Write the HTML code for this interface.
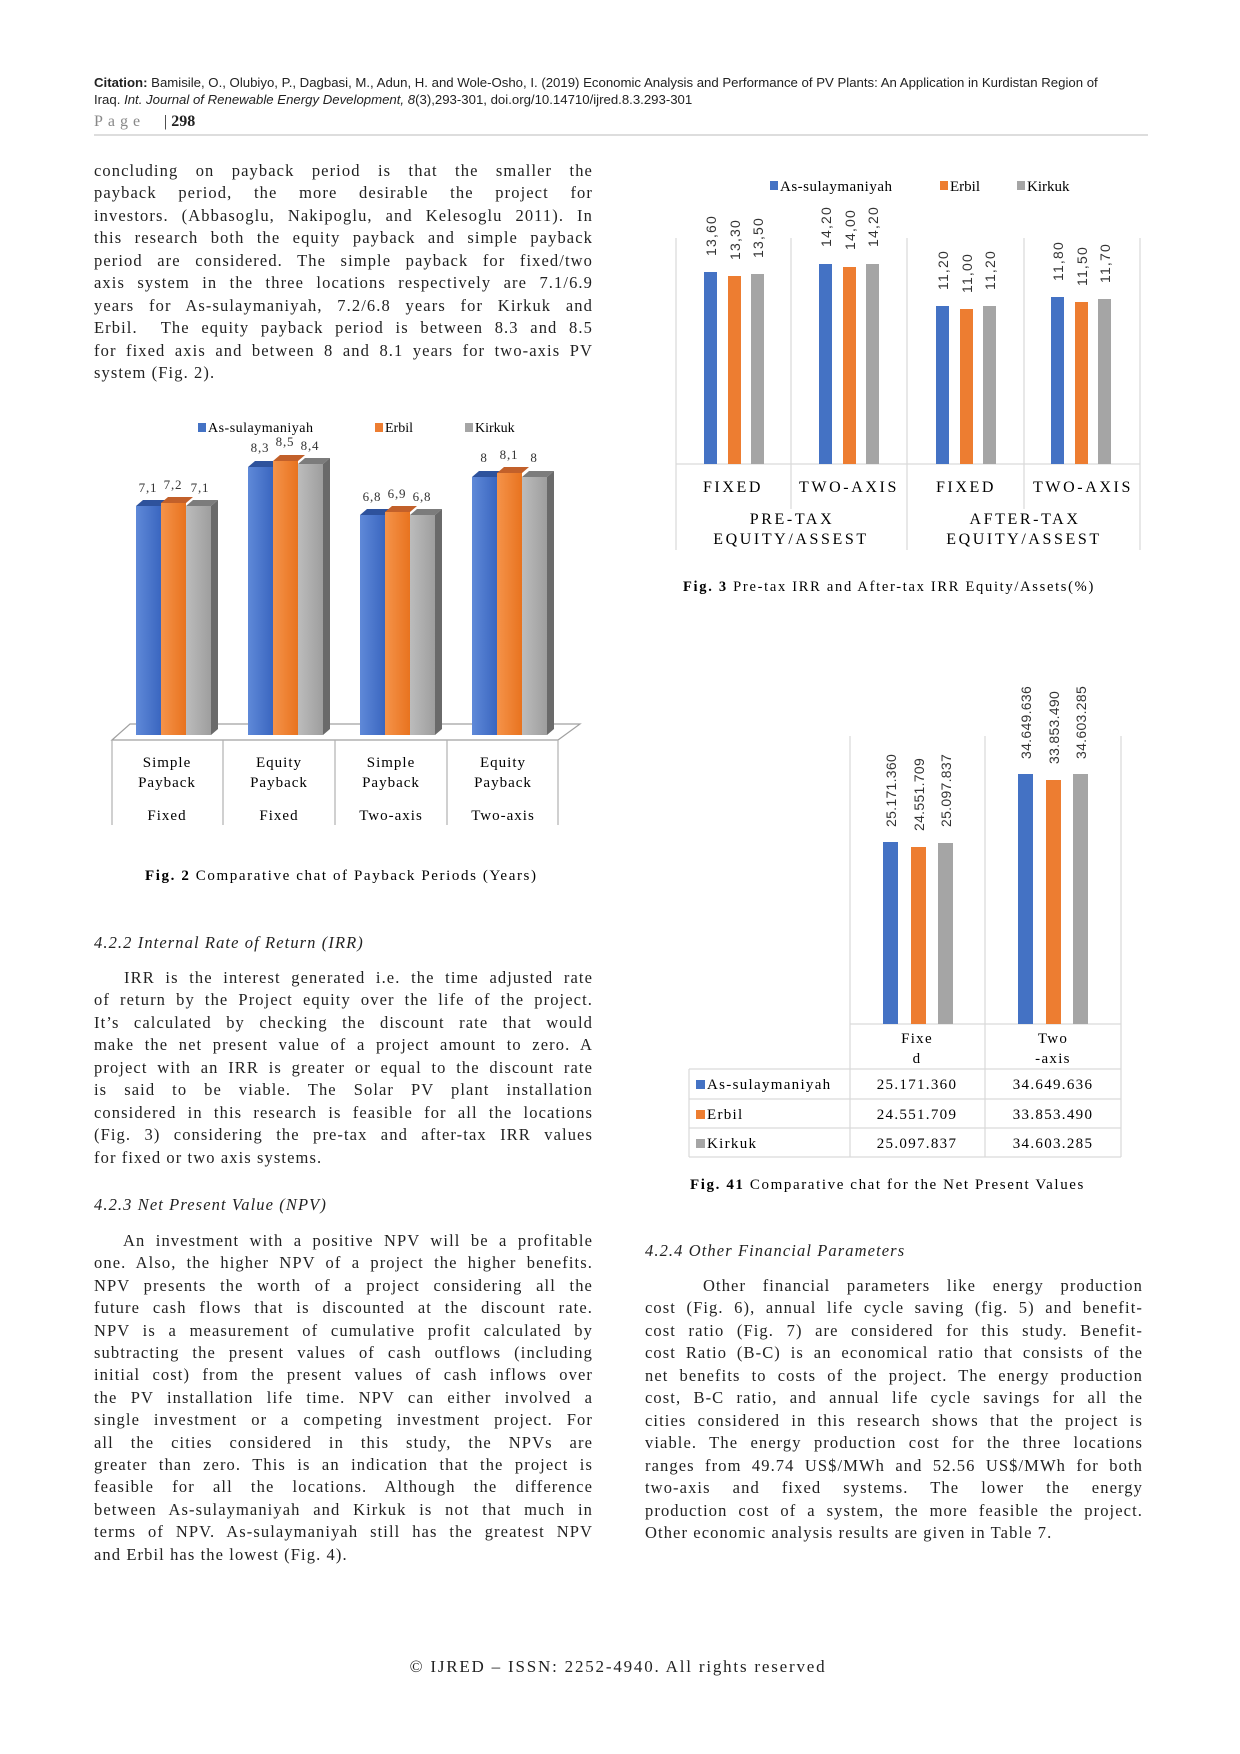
<!DOCTYPE html>
<html><head><meta charset="utf-8">
<style>
html,body{margin:0;padding:0;background:#fff;}
body{width:1240px;height:1754px;position:relative;overflow:hidden;font-family:"Liberation Serif",serif;color:#222;}
.l{position:absolute;height:22px;line-height:22px;font-size:16.5px;letter-spacing:1.1px;text-align:justify;text-align-last:justify;word-spacing:-1px}
.L{left:94px;width:499px}
.R{left:645px;width:498px}
.e{text-align-last:left;word-spacing:0}
.h{position:absolute;font-size:16.5px;font-style:italic;letter-spacing:1.1px;line-height:22px}
.c{position:absolute;font-family:"Liberation Sans",sans-serif;font-size:13.2px;line-height:16px;color:#222}
svg{position:absolute;left:0;top:0}
</style></head><body>
<div class="c" style="left:94px;top:75px"><b>Citation:</b> Bamisile, O., Olubiyo, P., Dagbasi, M., Adun, H. and Wole-Osho, I. (2019) Economic Analysis and Performance of PV Plants: An Application in Kurdistan Region of</div>
<div class="c" style="left:94px;top:92px">Iraq. <i>Int. Journal of Renewable Energy Development, 8</i>(3),293-301, doi.org/10.14710/ijred.8.3.293-301</div>
<div style="position:absolute;left:94px;top:112px;font-size:16px;line-height:20px;color:#888;letter-spacing:5px">Page</div>
<div style="position:absolute;left:164px;top:112px;font-size:16px;line-height:20px;color:#222">| <b>298</b></div>
<div style="position:absolute;left:94px;top:134px;width:1054px;height:2px;background:#ddd"></div>

<div class="l L" style="top:160px">concluding on payback period is that the smaller the</div>
<div class="l L" style="top:182px">payback period, the more desirable the project for</div>
<div class="l L" style="top:205px">investors. (Abbasoglu, Nakipoglu, and Kelesoglu 2011). In</div>
<div class="l L" style="top:227px">this research both the equity payback and simple payback</div>
<div class="l L" style="top:250px">period are considered. The simple payback for fixed/two</div>
<div class="l L" style="top:272px">axis system in the three locations respectively are 7.1/6.9</div>
<div class="l L" style="top:295px">years for As-sulaymaniyah, 7.2/6.8 years for Kirkuk and</div>
<div class="l L" style="top:317px">Erbil.&nbsp; The equity payback period is between 8.3 and 8.5</div>
<div class="l L" style="top:340px">for fixed axis and between 8 and 8.1 years for two-axis PV</div>
<div class="l L e" style="top:362px">system (Fig. 2).</div>

<div class="h" style="left:94px;top:932px">4.2.2 Internal Rate of Return (IRR)</div>
<div class="l L" style="top:967px;left:124px;width:469px">IRR is the interest generated i.e. the time adjusted rate</div>
<div class="l L" style="top:989px">of return by the Project equity over the life of the project.</div>
<div class="l L" style="top:1012px">It’s calculated by checking the discount rate that would</div>
<div class="l L" style="top:1034px">make the net present value of a project amount to zero. A</div>
<div class="l L" style="top:1057px">project with an IRR is greater or equal to the discount rate</div>
<div class="l L" style="top:1079px">is said to be viable. The Solar PV plant installation</div>
<div class="l L" style="top:1102px">considered in this research is feasible for all the locations</div>
<div class="l L" style="top:1124px">(Fig. 3) considering the pre-tax and after-tax IRR values</div>
<div class="l L e" style="top:1147px">for fixed or two axis systems.</div>

<div class="h" style="left:94px;top:1194px">4.2.3 Net Present Value (NPV)</div>
<div class="l L" style="top:1230px;left:123px;width:470px">An investment with a positive NPV will be a profitable</div>
<div class="l L" style="top:1252px">one. Also, the higher NPV of a project the higher benefits.</div>
<div class="l L" style="top:1275px">NPV presents the worth of a project considering all the</div>
<div class="l L" style="top:1297px">future cash flows that is discounted at the discount rate.</div>
<div class="l L" style="top:1320px">NPV is a measurement of cumulative profit calculated by</div>
<div class="l L" style="top:1342px">subtracting the present values of cash outflows (including</div>
<div class="l L" style="top:1364px">initial cost) from the present values of cash inflows over</div>
<div class="l L" style="top:1387px">the PV installation life time. NPV can either involved a</div>
<div class="l L" style="top:1409px">single investment or a competing investment project. For</div>
<div class="l L" style="top:1432px">all the cities considered in this study, the NPVs are</div>
<div class="l L" style="top:1454px">greater than zero. This is an indication that the project is</div>
<div class="l L" style="top:1476px">feasible for all the locations. Although the difference</div>
<div class="l L" style="top:1499px">between As-sulaymaniyah and Kirkuk is not that much in</div>
<div class="l L" style="top:1521px">terms of NPV. As-sulaymaniyah still has the greatest NPV</div>
<div class="l L e" style="top:1544px">and Erbil has the lowest (Fig. 4).</div>

<div class="h" style="left:645px;top:1240px">4.2.4 Other Financial Parameters</div>
<div class="l R" style="top:1275px;left:703px;width:440px">Other financial parameters like energy production</div>
<div class="l R" style="top:1297px">cost (Fig. 6), annual life cycle saving (fig. 5) and benefit-</div>
<div class="l R" style="top:1320px">cost ratio (Fig. 7) are considered for this study. Benefit-</div>
<div class="l R" style="top:1342px">cost Ratio (B-C) is an economical ratio that consists of the</div>
<div class="l R" style="top:1365px">net benefits to costs of the project. The energy production</div>
<div class="l R" style="top:1387px">cost, B-C ratio, and annual life cycle savings for all the</div>
<div class="l R" style="top:1410px">cities considered in this research shows that the project is</div>
<div class="l R" style="top:1432px">viable. The energy production cost for the three locations</div>
<div class="l R" style="top:1455px">ranges from 49.74 US$/MWh and 52.56 US$/MWh for both</div>
<div class="l R" style="top:1477px">two-axis and fixed systems. The lower the energy</div>
<div class="l R" style="top:1500px">production cost of a system, the more feasible the project.</div>
<div class="l R e" style="top:1522px">Other economic analysis results are given in Table 7.</div>

<div style="position:absolute;left:0;width:1236px;top:1656px;text-align:center;font-size:17px;line-height:22px;letter-spacing:1.8px">© IJRED – ISSN: 2252-4940. All rights reserved</div>

<svg width="1240" height="1754" viewBox="0 0 1240 1754" font-family="Liberation Serif, serif">
<defs>
<linearGradient id="gb" x1="0" x2="1"><stop offset="0" stop-color="#5F89D8"/><stop offset="1" stop-color="#3A66C0"/></linearGradient>
<linearGradient id="go" x1="0" x2="1"><stop offset="0" stop-color="#F5934A"/><stop offset="1" stop-color="#E8731F"/></linearGradient>
<linearGradient id="gg" x1="0" x2="1"><stop offset="0" stop-color="#BCBCBC"/><stop offset="1" stop-color="#9E9E9E"/></linearGradient>
</defs>
<rect x="198" y="423" width="8" height="9" fill="#4472C4"/><text x="208" y="432" font-size="14" letter-spacing="0.5">As-sulaymaniyah</text>
<rect x="375" y="423" width="8" height="9" fill="#ED7D31"/><text x="385" y="432" font-size="14">Erbil</text>
<rect x="465" y="423" width="8" height="9" fill="#A5A5A5"/><text x="475" y="432" font-size="14">Kirkuk</text>
<polygon points="112,740 130,724 580,724 558,740" fill="#fff" stroke="#a0a0a0" stroke-width="1.2"/>
<g stroke="#b0b0b0" stroke-width="1.2">
<line x1="112" y1="740" x2="112" y2="825"/><line x1="223" y1="740" x2="223" y2="825"/><line x1="335" y1="740" x2="335" y2="825"/><line x1="447" y1="740" x2="447" y2="825"/><line x1="558" y1="740" x2="558" y2="825"/>
</g>
<g>
<polygon points="136,506 143,500 168,500 161,506" fill="#2E529C"/><rect x="136" y="506" width="25" height="229" fill="url(#gb)"/>
<polygon points="161,503 168,497 193,497 186,503" fill="#C2602A"/><rect x="161" y="503" width="25" height="232" fill="url(#go)"/>
<polygon points="186,506 193,500 218,500 211,506" fill="#7C7C7C"/><polygon points="211,506 218,500 218,729 211,735" fill="#6A6A6A"/><rect x="186" y="506" width="25" height="229" fill="url(#gg)"/>
<polygon points="248,467 255,461 280,461 273,467" fill="#2E529C"/><rect x="248" y="467" width="25" height="268" fill="url(#gb)"/>
<polygon points="273,461 280,455 305,455 298,461" fill="#C2602A"/><rect x="273" y="461" width="25" height="274" fill="url(#go)"/>
<polygon points="298,464 305,458 330,458 323,464" fill="#7C7C7C"/><polygon points="323,464 330,458 330,729 323,735" fill="#6A6A6A"/><rect x="298" y="464" width="25" height="271" fill="url(#gg)"/>
<polygon points="360,515 367,509 392,509 385,515" fill="#2E529C"/><rect x="360" y="515" width="25" height="220" fill="url(#gb)"/>
<polygon points="385,512 392,506 417,506 410,512" fill="#C2602A"/><rect x="385" y="512" width="25" height="223" fill="url(#go)"/>
<polygon points="410,515 417,509 442,509 435,515" fill="#7C7C7C"/><polygon points="435,515 442,509 442,729 435,735" fill="#6A6A6A"/><rect x="410" y="515" width="25" height="220" fill="url(#gg)"/>
<polygon points="472,477 479,471 504,471 497,477" fill="#2E529C"/><rect x="472" y="477" width="25" height="258" fill="url(#gb)"/>
<polygon points="497,473 504,467 529,467 522,473" fill="#C2602A"/><rect x="497" y="473" width="25" height="262" fill="url(#go)"/>
<polygon points="522,477 529,471 554,471 547,477" fill="#7C7C7C"/><polygon points="547,477 554,471 554,729 547,735" fill="#6A6A6A"/><rect x="522" y="477" width="25" height="258" fill="url(#gg)"/>
</g>
<g font-size="13" text-anchor="middle" fill="#333" letter-spacing="0.8">
<text x="148" y="492">7,1</text><text x="173" y="489">7,2</text><text x="200" y="492">7,1</text>
<text x="260" y="452">8,3</text><text x="285" y="446">8,5</text><text x="310" y="450">8,4</text>
<text x="372" y="501">6,8</text><text x="397" y="498">6,9</text><text x="422" y="501">6,8</text>
<text x="484" y="462">8</text><text x="509" y="459">8,1</text><text x="534" y="462">8</text>
</g>
<g font-size="15" text-anchor="middle" letter-spacing="1">
<text x="167" y="767">Simple</text><text x="167" y="787">Payback</text><text x="167" y="820">Fixed</text>
<text x="279" y="767">Equity</text><text x="279" y="787">Payback</text><text x="279" y="820">Fixed</text>
<text x="391" y="767">Simple</text><text x="391" y="787">Payback</text><text x="391" y="820">Two-axis</text>
<text x="503" y="767">Equity</text><text x="503" y="787">Payback</text><text x="503" y="820">Two-axis</text>
</g>
<text x="145" y="880" font-size="15" letter-spacing="1.6"><tspan font-weight="bold">Fig. 2</tspan> Comparative chat of Payback Periods (Years)</text>

<rect x="770" y="181" width="8" height="9" fill="#4472C4"/><text x="780" y="191" font-size="15" letter-spacing="0.5">As-sulaymaniyah</text>
<rect x="940" y="181" width="8" height="9" fill="#ED7D31"/><text x="950" y="191" font-size="15">Erbil</text>
<rect x="1017" y="181" width="8" height="9" fill="#A5A5A5"/><text x="1027" y="191" font-size="15">Kirkuk</text>
<g stroke="#d9d9d9" stroke-width="1.2">
<line x1="676" y1="238" x2="676" y2="550"/><line x1="791" y1="238" x2="791" y2="509"/><line x1="907" y1="238" x2="907" y2="550"/><line x1="1024" y1="238" x2="1024" y2="509"/><line x1="1140" y1="238" x2="1140" y2="550"/>
<line x1="676" y1="464" x2="1140" y2="464"/>
</g>
<g>
<rect x="704" y="272" width="13" height="192" fill="#4472C4"/><rect x="728" y="276" width="13" height="188" fill="#ED7D31"/><rect x="751" y="274" width="13" height="190" fill="#A5A5A5"/>
<rect x="819" y="264" width="13" height="200" fill="#4472C4"/><rect x="843" y="267" width="13" height="197" fill="#ED7D31"/><rect x="866" y="264" width="13" height="200" fill="#A5A5A5"/>
<rect x="936" y="306" width="13" height="158" fill="#4472C4"/><rect x="960" y="309" width="13" height="155" fill="#ED7D31"/><rect x="983" y="306" width="13" height="158" fill="#A5A5A5"/>
<rect x="1051" y="297" width="13" height="167" fill="#4472C4"/><rect x="1075" y="302" width="13" height="162" fill="#ED7D31"/><rect x="1098" y="299" width="13" height="165" fill="#A5A5A5"/>
</g>
<g font-family="Liberation Sans, sans-serif" font-size="14" letter-spacing="1.2" fill="#333">
<text transform="translate(716,256) rotate(-90)">13,60</text><text transform="translate(740,260) rotate(-90)">13,30</text><text transform="translate(763,258) rotate(-90)">13,50</text>
<text transform="translate(831,247) rotate(-90)">14,20</text><text transform="translate(855,250) rotate(-90)">14,00</text><text transform="translate(878,247) rotate(-90)">14,20</text>
<text transform="translate(948,290) rotate(-90)">11,20</text><text transform="translate(972,293) rotate(-90)">11,00</text><text transform="translate(995,290) rotate(-90)">11,20</text>
<text transform="translate(1063,281) rotate(-90)">11,80</text><text transform="translate(1087,286) rotate(-90)">11,50</text><text transform="translate(1110,283) rotate(-90)">11,70</text>
</g>
<g font-size="16" text-anchor="middle" letter-spacing="2.6">
<text x="733" y="492">FIXED</text><text x="849" y="492">TWO-AXIS</text><text x="966" y="492">FIXED</text><text x="1083" y="492">TWO-AXIS</text>
<text x="792" y="524">PRE-TAX</text><text x="791" y="544">EQUITY/ASSEST</text>
<text x="1025" y="524">AFTER-TAX</text><text x="1024" y="544">EQUITY/ASSEST</text>
</g>
<text x="683" y="591" font-size="14.5" letter-spacing="1.7"><tspan font-weight="bold">Fig. 3</tspan> Pre-tax IRR and After-tax IRR Equity/Assets(%)</text>

<g stroke="#d9d9d9" stroke-width="1.2" fill="none">
<line x1="850" y1="736" x2="850" y2="1157"/><line x1="985" y1="736" x2="985" y2="1157"/><line x1="1121" y1="736" x2="1121" y2="1157"/>
<line x1="850" y1="1024" x2="1121" y2="1024"/>
<line x1="689" y1="1069" x2="1121" y2="1069"/><line x1="689" y1="1099" x2="1121" y2="1099"/><line x1="689" y1="1128" x2="1121" y2="1128"/><line x1="689" y1="1157" x2="1121" y2="1157"/>
<line x1="689" y1="1069" x2="689" y2="1157"/>
</g>
<rect x="883" y="842" width="15" height="182" fill="#4472C4"/><rect x="911" y="847" width="15" height="177" fill="#ED7D31"/><rect x="938" y="843" width="15" height="181" fill="#A5A5A5"/>
<rect x="1018" y="774" width="15" height="250" fill="#4472C4"/><rect x="1046" y="780" width="15" height="244" fill="#ED7D31"/><rect x="1073" y="774" width="15" height="250" fill="#A5A5A5"/>
<g font-family="Liberation Sans, sans-serif" font-size="14" fill="#333" letter-spacing="0.3">
<text transform="translate(896,827) rotate(-90)">25.171.360</text><text transform="translate(924,831) rotate(-90)">24.551.709</text><text transform="translate(951,827) rotate(-90)">25.097.837</text>
<text transform="translate(1031,759) rotate(-90)">34.649.636</text><text transform="translate(1059,764) rotate(-90)">33.853.490</text><text transform="translate(1086,759) rotate(-90)">34.603.285</text>
</g>
<g font-size="15" text-anchor="middle" letter-spacing="1.3">
<text x="917" y="1043">Fixe</text><text x="917" y="1063">d</text>
<text x="1053" y="1043">Two</text><text x="1053" y="1063">-axis</text>
<text x="917" y="1089">25.171.360</text><text x="1053" y="1089">34.649.636</text>
<text x="917" y="1119">24.551.709</text><text x="1053" y="1119">33.853.490</text>
<text x="917" y="1148">25.097.837</text><text x="1053" y="1148">34.603.285</text>
</g>
<rect x="696" y="1080" width="9" height="9" fill="#4472C4"/><text x="707" y="1089" font-size="15" letter-spacing="1.3">As-sulaymaniyah</text>
<rect x="696" y="1110" width="9" height="9" fill="#ED7D31"/><text x="707" y="1119" font-size="15" letter-spacing="1.3">Erbil</text>
<rect x="696" y="1139" width="9" height="9" fill="#A5A5A5"/><text x="707" y="1148" font-size="15" letter-spacing="1.3">Kirkuk</text>
<text x="690" y="1189" font-size="15" letter-spacing="1.6"><tspan font-weight="bold">Fig. 41</tspan> Comparative chat for the Net Present Values</text>
</svg>
</body></html>
